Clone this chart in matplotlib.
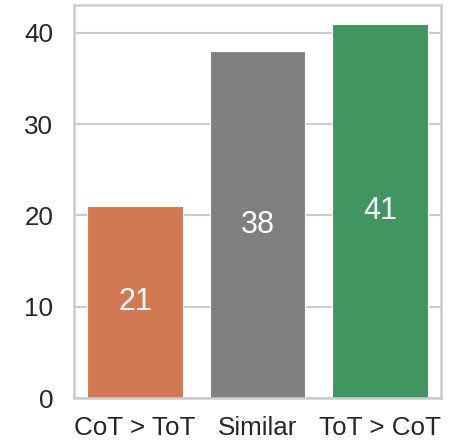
import matplotlib
matplotlib.use("Agg")
import matplotlib.pyplot as plt

categories = ["CoT > ToT", "Similar", "ToT > CoT"]
values = [21, 38, 41]
colors = ["#D27853", "#808080", "#419561"]
yticks = [0, 10, 20, 30, 40]

plt.rcParams['font.family'] = ['Liberation Sans', 'DejaVu Sans']
fig = plt.figure(figsize=(4.51, 4.44), dpi=100)
ax = fig.add_axes([74/451, 1-398/444, (441-74)/451, (398-5)/444])
x = list(range(len(categories)))
bars = ax.bar(x, values, width=0.78, color=colors, edgecolor="white", linewidth=0.8, zorder=2)
for xi, v in zip(x, values):
    ax.text(xi, v/2, str(v), ha="center", va="center", color="white", fontsize=22, zorder=3)
ax.set_xlim(-0.5, 2.5)
ax.set_ylim(0, max(values)*1.05)
ax.set_yticks(yticks)
ax.set_xticks(x)
ax.set_xticklabels(categories)
ax.tick_params(axis="both", labelsize=18.7, colors="#262626", length=0)
ax.tick_params(axis="y", pad=15)
ax.tick_params(axis="x", pad=13)
ax.yaxis.grid(True, color="#cccccc", linewidth=1.5, zorder=0)
ax.xaxis.grid(False)
ax.set_axisbelow(True)
for s in ax.spines.values():
    s.set_color("#cccccc")
    s.set_linewidth(1.8)
fig.savefig("out.png", dpi=100)
